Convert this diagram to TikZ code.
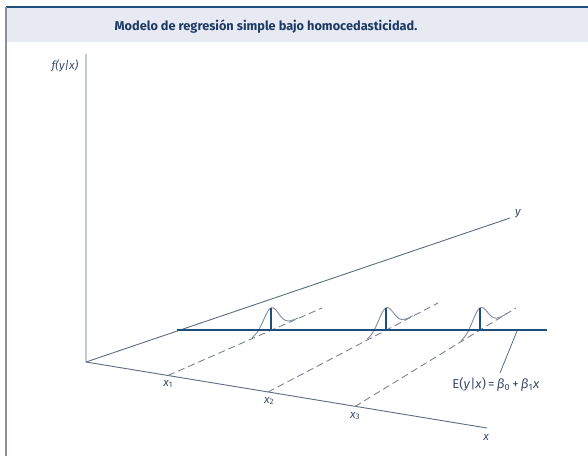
\documentclass[tikz,border=0pt]{standalone}
\usepackage{fontspec}
\setmainfont{Fira Sans}
\definecolor{axiscol}{HTML}{5B6B82}
\definecolor{regcol}{HTML}{1D4F7C}
\definecolor{txtcol}{HTML}{3A4A6A}
\definecolor{dashcol}{HTML}{6D7688}
\definecolor{bellcol}{HTML}{8A93A5}
\definecolor{headbg}{HTML}{E8EAF3}
\definecolor{titlecol}{HTML}{1C3A63}
\definecolor{framecol}{HTML}{8A8F9A}
\begin{document}
\begin{tikzpicture}[x=1bp,y=-1bp,
  axis/.style={draw=axiscol,line width=0.9bp},
  guide/.style={draw=dashcol,line width=0.8bp,dash pattern=on 7bp off 4bp},
  bell/.style={draw=bellcol,line width=1bp},
  regline/.style={draw=regcol,line width=1.8bp},
  peak/.style={draw=regcol,line width=1.4bp},
  lbl/.style={text=txtcol,font=\fontsize{11.5}{13}\selectfont\itshape,inner sep=0pt},
  eq/.style={text=txtcol,font=\fontsize{13}{15}\selectfont,inner sep=0pt},
  ttl/.style={text=titlecol,font=\fontsize{12.8}{15}\selectfont\bfseries,inner sep=0pt}]
\useasboundingbox (0,0) rectangle (588,456);
% frame
\fill[headbg] (6,8) rectangle (588,42);
\draw[draw=regcol,line width=1.2bp] (6,7) -- (588,7);
\draw[draw=framecol,line width=1.3bp] (6,7) -- (6,456);
\node[ttl] (title) at (266,27) {Modelo de regresión simple bajo homocedasticidad.};
% coordinates
\coordinate (O) at (86,362);
\coordinate (ytop) at (86,54);
\coordinate (yend) at (510,218);
\coordinate (xend) at (487,428);
\coordinate (x1) at (168,375.5);
\coordinate (x2) at (268,392);
\coordinate (x3) at (355,406.5);
\coordinate (p1) at (271,330);
\coordinate (p2) at (386,330);
\coordinate (p3) at (480,330);
\coordinate (d1) at (322,308);
\coordinate (d2) at (438,303);
\coordinate (d3) at (516,308);
\coordinate (h1) at (271,308);
\coordinate (h2) at (386,308);
\coordinate (h3) at (480,308);
\coordinate (rl) at (177,330);
\coordinate (rr) at (547,330);
\coordinate (la) at (517,331);
\coordinate (lb) at (500,373);
% axes
\draw[axis] (ytop) -- (O) -- (xend);
\draw[axis] (O) -- (yend);
% guides
\draw[guide] (x1) -- (d1);
\draw[guide] (x2) -- (d2);
\draw[guide] (x3) -- (d3);
% bells
\draw[bell] plot[domain=-19:27,samples=80,smooth] ({271+\x},{330-0.442*\x-22*exp(-(\x*\x)/110)});
\draw[bell] plot[domain=-19:27,samples=80,smooth] ({386+\x},{330-0.525*\x-22*exp(-(\x*\x)/110)});
\draw[bell] plot[domain=-19:27,samples=80,smooth] ({480+\x},{330-0.612*\x-22*exp(-(\x*\x)/110)});
% regression line
\draw[regline] (rl) -- (rr);
\draw[peak] (p1) -- (h1);
\draw[peak] (p2) -- (h2);
\draw[peak] (p3) -- (h3);
\draw[draw=axiscol,line width=0.8bp] (la) -- (lb);
% labels
\node[lbl] (fl) at (65,66) {f(y|x)};
\node[lbl] (yl) at (518,214) {y};
\node[lbl] (xl) at (486,437) {x};
\node[lbl] (x1l) at (168,384) {x\textsubscript{\upshape 1}};
\node[lbl] (x2l) at (269,401) {x\textsubscript{\upshape 2}};
\node[lbl] (x3l) at (355,416) {x\textsubscript{\upshape 3}};
\node[eq] (eql) at (496,384) {E(\textit{y}|\textit{x})\,=\,\textit{β}\textsubscript{0}\,+\,\textit{β}\textsubscript{1}\textit{x}};
\end{tikzpicture}
\end{document}
